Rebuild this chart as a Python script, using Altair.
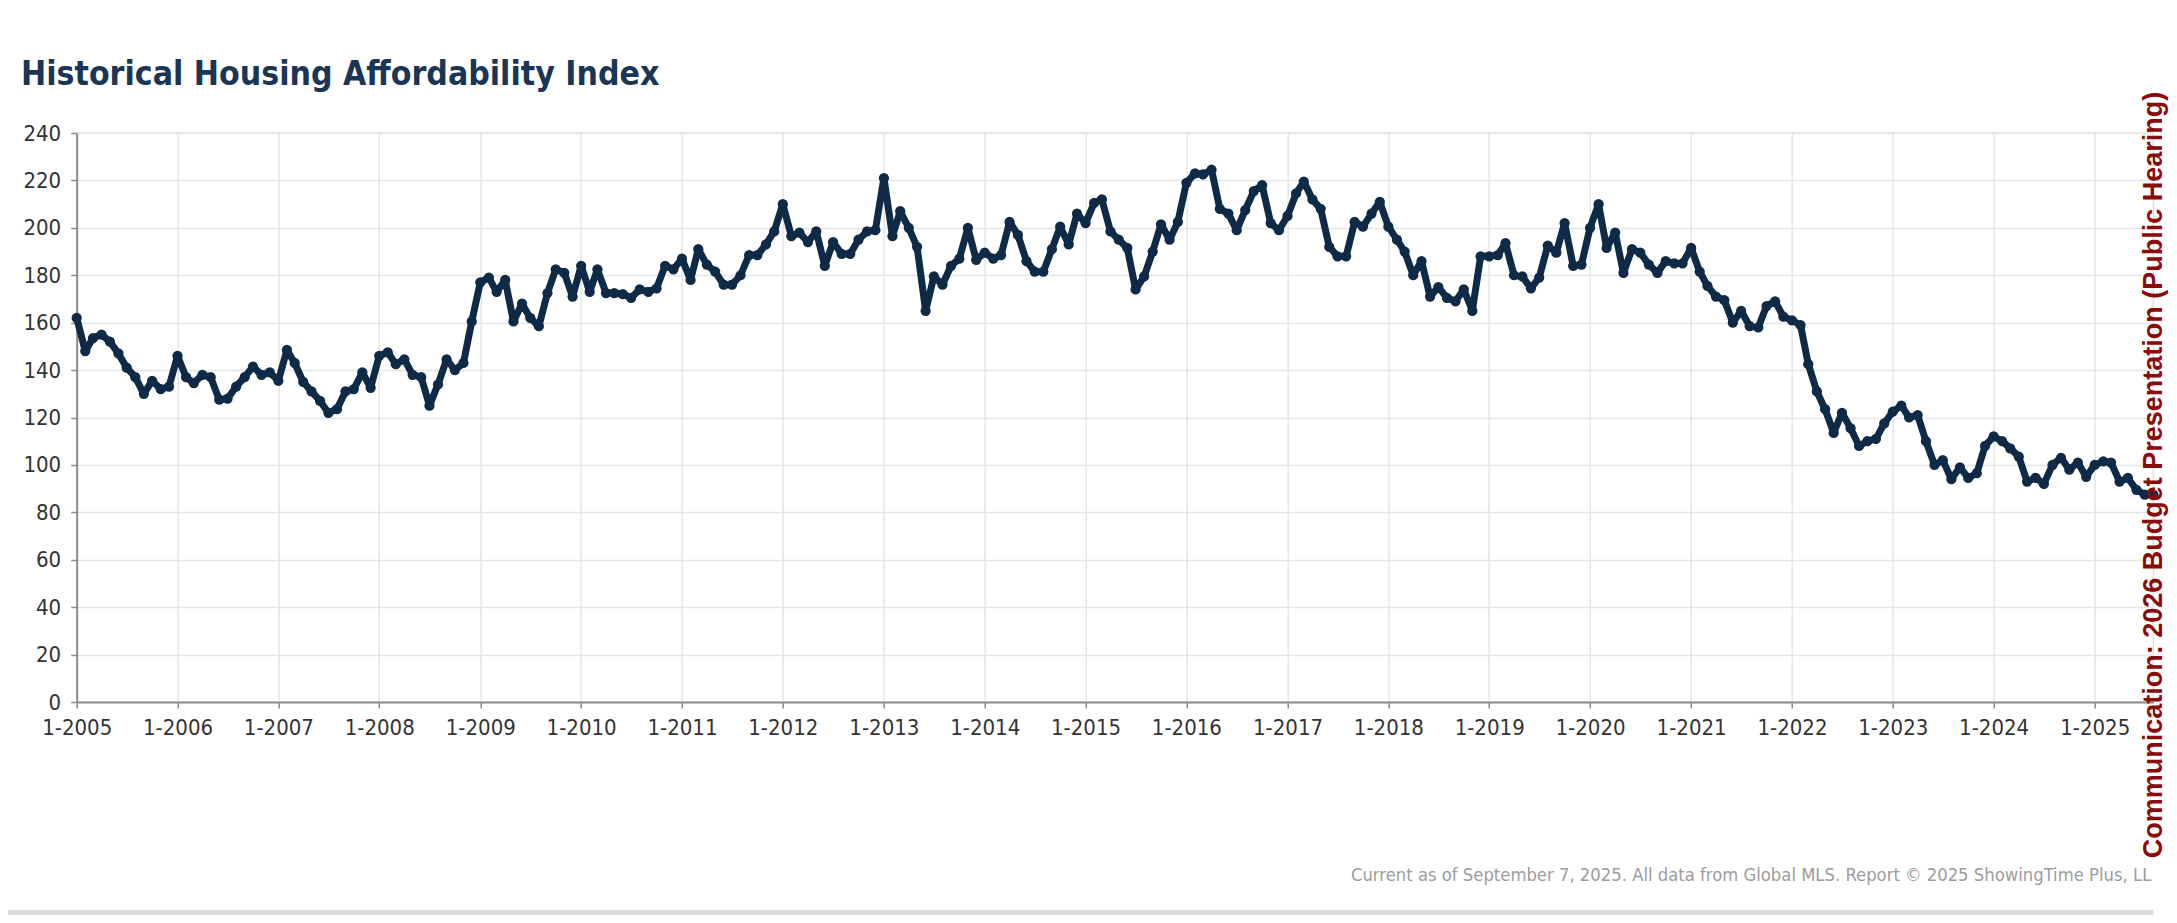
import altair as alt
import pandas as pd

# ---- data (monthly Housing Affordability Index) ----
years = list(range(2005, 2026))
v2005 = [162, 148, 153.5, 155, 152, 147, 141, 137, 130, 135.5, 132, 133]
v2006 = [146, 137, 134.5, 138, 137, 127.5, 128, 133, 137, 141.5, 138, 139]
v2007 = [135.5, 148.5, 143, 135, 131, 127, 122, 123.5, 131, 132, 139, 132.5]
v2008 = [146, 147.5, 142.5, 144.5, 138, 137, 125, 134, 144.5, 140, 143, 160.5]
v2009 = [177, 179, 173, 178, 160.5, 168, 162, 158.5, 172.5, 182.5, 181, 171]
v2010 = [184, 173, 182.5, 172.5, 172.5, 172, 170.5, 174, 173, 174.5, 184, 182.5]
v2011 = [187, 178, 191, 184.5, 181.5, 176, 176, 180, 188.5, 188.5, 193, 198.5]
v2012 = [210, 196.5, 198, 194, 198.5, 184, 194, 189, 189, 195, 198.5, 199]
v2013 = [221, 196.5, 207, 200, 192, 165, 179.5, 176, 184, 187, 200, 186.5]
v2014 = [189.5, 187, 188.5, 202.5, 197, 186, 181.5, 181.5, 191, 200.5, 193, 206]
v2015 = [202, 210.5, 212, 198.5, 195, 191.5, 174, 179.5, 190, 201.5, 195, 202.5]
v2016 = [219, 223, 222.5, 224.5, 208, 206, 199, 207.5, 215.5, 218, 202, 199]
v2017 = [205, 214.5, 219.5, 212, 208, 192, 188, 188, 202.5, 200.5, 206, 211]
v2018 = [200.5, 195, 190, 180, 186, 171, 175, 170.5, 169, 174, 165, 188]
v2019 = [188, 188.5, 193.5, 180, 179.5, 174.5, 179, 192.5, 189.5, 202, 184, 184.5]
v2020 = [200, 210, 191.5, 198, 181, 191, 189.5, 184.5, 181, 186, 185, 185]
v2021 = [191.5, 181.5, 175.5, 171, 169.5, 160, 165, 158.5, 158, 167, 169, 162.5]
v2022 = [161, 159, 142.5, 131, 123.5, 113.5, 122, 115.5, 108, 110, 111, 117.5]
v2023 = [122.5, 125, 120, 121, 110, 100, 102, 94, 99, 94.5, 96.5, 108]
v2024 = [112, 110, 107, 103.5, 93, 94.5, 92, 100, 103, 98, 101, 95]
v2025 = [100, 101.5, 101, 93, 94.5, 89.5, 87.5, 87.5]
series = [v2005, v2006, v2007, v2008, v2009, v2010, v2011, v2012, v2013, v2014,
          v2015, v2016, v2017, v2018, v2019, v2020, v2021, v2022, v2023, v2024, v2025]

y_ticks = list(range(0, 241, 20))

TITLE = "Historical Housing Affordability Index"
FOOTER = "Current as of September 7, 2025. All data from Global MLS. Report \u00a9 2025 ShowingTime Plus, LL"
SIDE = "Communication: 2026 Budget Presentation (Public Hearing)"

rows = []
for yr, vals in zip(years, series):
    for m, v in enumerate(vals, start=1):
        rows.append({"date": f"{yr}/{m:02d}/01", "hai": v})
df = pd.DataFrame(rows)

# ---- styling ----
NAVY = "#0e2a46"
NARROW = "DejaVu Sans Condensed, Liberation Sans, sans-serif"
W, H = 2076.6, 569
PAD = {"left": 68.7, "top": 125, "right": 15.7, "bottom": 213}

x_enc = alt.X(
    "date:T",
    scale=alt.Scale(domain=[alt.DateTime(year=2005, month=1, date=1),
                            alt.DateTime(year=2025, month=8, date=1)], nice=False),
    axis=alt.Axis(values=[alt.DateTime(year=y, month=1, date=1) for y in years],
                  format="%-m-%Y", title=None, labelFlush=False, labelOverlap=False,
                  labelPadding=9),
)
y_enc = alt.Y(
    "hai:Q",
    scale=alt.Scale(domain=[0, 240], nice=False),
    axis=alt.Axis(values=y_ticks, title=None, labelPadding=10),
)

line = alt.Chart(df).mark_line(
    color=NAVY, strokeWidth=7, strokeJoin="round",
    point=alt.OverlayMarkDef(filled=True, size=105, color=NAVY, opacity=1),
).encode(x=x_enc, y=y_enc)

title = alt.Chart(pd.DataFrame({"t": [TITLE]})).mark_text(
    align="left", baseline="alphabetic", font=NARROW, fontSize=33.5,
    fontWeight="bold", color="#1b3555",
).encode(x=alt.value(-55.7), y=alt.value(-48), text="t:N")

footer = alt.Chart(pd.DataFrame({"t": [FOOTER]})).mark_text(
    align="right", baseline="middle", font=NARROW, fontSize=18.3, color="#9c9c9c",
).encode(x=alt.value(W - 2), y=alt.value(876 - 133), text="t:N")

side = alt.Chart(pd.DataFrame({"t": [SIDE]})).mark_text(
    align="center", baseline="middle", angle=270, font="Liberation Sans, Arial, sans-serif",
    fontSize=27, fontWeight="bold", color="#8b0a0a",
).encode(x=alt.value(2077), y=alt.value(342), text="t:N")

band = alt.Chart(pd.DataFrame({"a": [0]})).mark_rect(color="#d9d9d9").encode(
    x=alt.value(-68.7), x2=alt.value(W), y=alt.value(777), y2=alt.value(790)
)

chart = alt.layer(band, line, title, footer, side).properties(
    width=W, height=H,
    autosize=alt.AutoSizeParams(type="none"),
    padding=PAD,
    background="white",
).configure_view(
    stroke="#e2e2e2", strokeWidth=1.5
).configure_axis(
    labelFont=NARROW, labelFontSize=22, labelColor="#333333",
    tickColor="#8c8c8c", tickSize=6, tickWidth=1.5,
    domainColor="#8c8c8c", domainWidth=2,
    gridColor="#e6e6e6", gridWidth=1.5,
)

chart.save("out.html", embed_options={"renderer": "svg", "actions": False})
